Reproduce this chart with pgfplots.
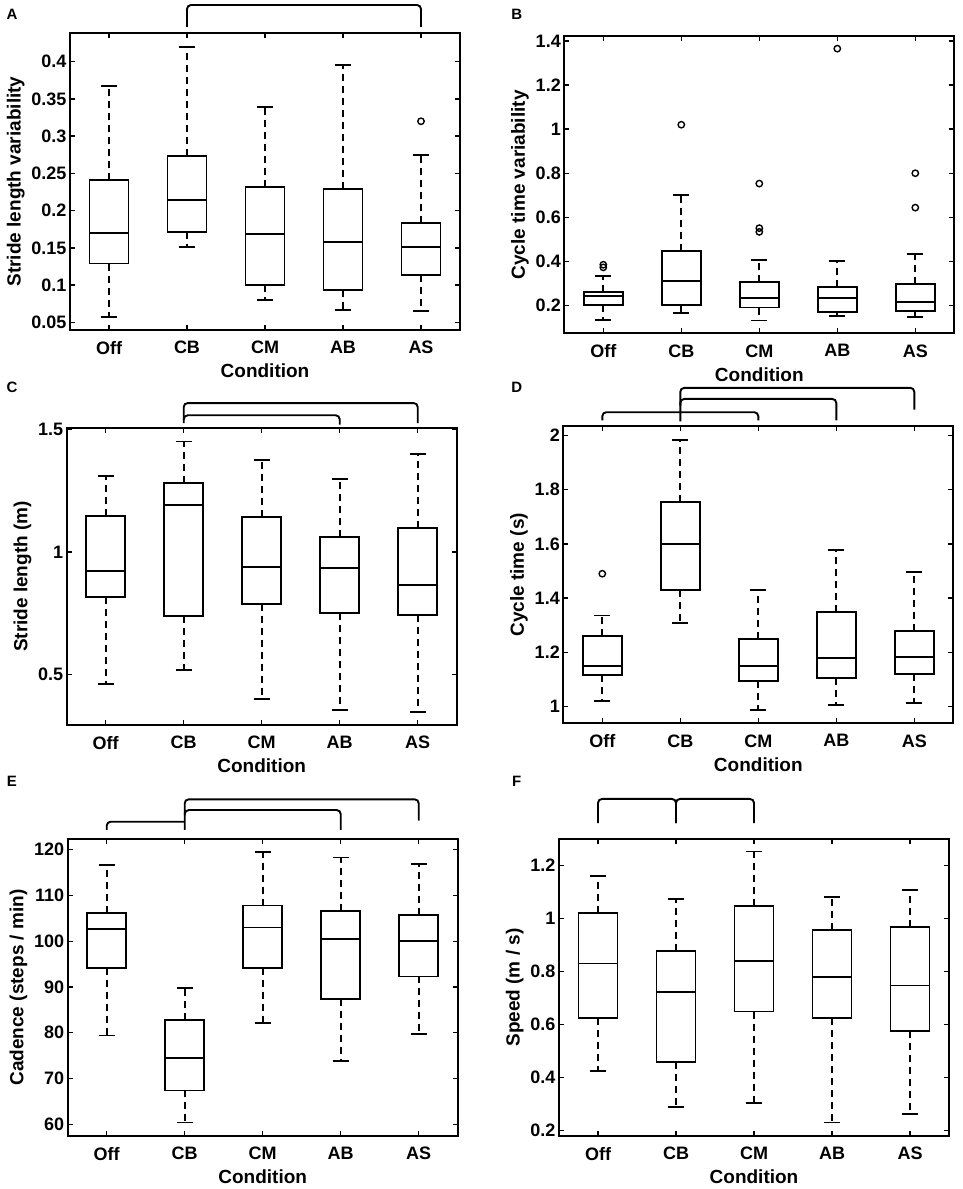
\documentclass[border=0pt]{standalone}
\usepackage{pgfplots}
\pgfplotsset{compat=1.18}
\usepgfplotslibrary{statistics}
\usepackage{fontspec}
\setmainfont{Liberation Sans}
\tikzset{br/.style={black, line width=1.9pt, rounded corners=4pt},
  lab/.style={font=\fontsize{15}{18}\selectfont\bfseries}}
\pgfplotsset{
  /pgfplots/boxplot/draw/lower whisker/.code={%
    \draw[dash pattern=on 7pt off 5pt]
      (boxplot box cs:\pgfplotsboxplotvalue{lower quartile},0.5) --
      (boxplot box cs:\pgfplotsboxplotvalue{lower whisker},0.5);
    \draw[solid]
      (boxplot whisker cs:\pgfplotsboxplotvalue{lower whisker},0) --
      (boxplot whisker cs:\pgfplotsboxplotvalue{lower whisker},1);
  },
  /pgfplots/boxplot/draw/upper whisker/.code={%
    \draw[dash pattern=on 7pt off 5pt]
      (boxplot box cs:\pgfplotsboxplotvalue{upper quartile},0.5) --
      (boxplot box cs:\pgfplotsboxplotvalue{upper whisker},0.5);
    \draw[solid]
      (boxplot whisker cs:\pgfplotsboxplotvalue{upper whisker},0) --
      (boxplot whisker cs:\pgfplotsboxplotvalue{upper whisker},1);
  },
  panel/.style={
    scale only axis, width=390pt, height=297pt,
    anchor=south west,
    xmin=0.5, xmax=5.5,
    xtick={1,2,3,4,5},
    xticklabels={Off,CB,CM,AB,AS},
    xlabel={Condition},
    tick align=inside,
    major tick length=5pt,
    axis line style={line width=1.8pt},
    every tick/.style={line width=1.3pt, black},
    tick label style={font=\fontsize{18}{21}\selectfont\bfseries},
    xticklabel style={inner sep=0pt, anchor=north, yshift=-11pt},
    label style={font=\fontsize{19}{22}\selectfont\bfseries},
    xlabel style={at={(axis description cs:0.5,0)}, anchor=north, inner sep=0pt, yshift=-34pt},
    clip=false,
    boxplot/draw direction=y,
    boxplot/box extend=0.5,
    boxplot/whisker extend=0.21,
  },
  bx/.style={black, line width=1.9pt, solid, mark=o, mark size=3.2pt,
    mark options={solid, line width=1.4pt}},
}
\begin{document}
\begin{tikzpicture}
\useasboundingbox (0pt,0pt) rectangle (962pt,-1189pt);
\node[lab] at (12pt,-14pt) {A};
\node[lab] at (516.7pt,-14pt) {B};
\node[lab] at (12pt,-387pt) {C};
\node[lab] at (516.7pt,-387pt) {D};
\node[lab] at (12pt,-781pt) {E};
\node[lab] at (516.7pt,-781pt) {F};

% ---------------- A
\begin{axis}[panel, at={(70pt,-330pt)},
  ymin=0.0397, ymax=0.4385,
  ytick={0.05,0.1,0.15,0.2,0.25,0.3,0.35,0.4},
  yticklabels={0.05,0.1,0.15,0.2,0.25,0.3,0.35,0.4},
  ylabel={Stride length variability}]
\addplot[bx, boxplot prepared={draw position=1, lower whisker=0.0576, lower quartile=0.129, median=0.170, upper quartile=0.241, upper whisker=0.367}] coordinates {};
\addplot[bx, boxplot prepared={draw position=2, lower whisker=0.151, lower quartile=0.171, median=0.2138, upper quartile=0.273, upper whisker=0.420}] coordinates {};
\addplot[bx, boxplot prepared={draw position=3, lower whisker=0.080, lower quartile=0.100, median=0.169, upper quartile=0.2312, upper whisker=0.3396}] coordinates {};
\addplot[bx, boxplot prepared={draw position=4, lower whisker=0.0665, lower quartile=0.093, median=0.158, upper quartile=0.229, upper whisker=0.395}] coordinates {};
\addplot[bx, boxplot prepared={draw position=5, lower whisker=0.0656, lower quartile=0.113, median=0.151, upper quartile=0.183, upper whisker=0.275}] coordinates {(0,0.320)};
\draw[br] (axis cs:2,0.4466) -- (axis cs:2,0.4761) -- (axis cs:5,0.4761) -- (axis cs:5,0.4466);
\end{axis}

% ---------------- B
\begin{axis}[panel, at={(564.3pt,-333.3pt)},
  ymin=0.074, ymax=1.421,
  ytick={0.2,0.4,0.6,0.8,1,1.2,1.4},
  yticklabels={0.2,0.4,0.6,0.8,1,1.2,1.4},
  ylabel={Cycle time variability}]
\addplot[bx, boxplot prepared={draw position=1, lower whisker=0.135, lower quartile=0.203, median=0.245, upper quartile=0.262, upper whisker=0.335}] coordinates {(0,0.385) (0,0.373)};
\addplot[bx, boxplot prepared={draw position=2, lower whisker=0.165, lower quartile=0.203, median=0.312, upper quartile=0.446, upper whisker=0.700}] coordinates {(0,1.020)};
\addplot[bx, boxplot prepared={draw position=3, lower whisker=0.132, lower quartile=0.191, median=0.236, upper quartile=0.306, upper whisker=0.408}] coordinates {(0,0.753) (0,0.551) (0,0.534)};
\addplot[bx, boxplot prepared={draw position=4, lower whisker=0.153, lower quartile=0.170, median=0.236, upper quartile=0.282, upper whisker=0.402}] coordinates {(0,1.365)};
\addplot[bx, boxplot prepared={draw position=5, lower whisker=0.147, lower quartile=0.177, median=0.214, upper quartile=0.299, upper whisker=0.435}] coordinates {(0,0.800) (0,0.644)};
\end{axis}

% ---------------- C
\begin{axis}[panel, at={(66.7pt,-725pt)},
  ymin=0.293, ymax=1.507,
  ytick={0.5,1,1.5},
  yticklabels={0.5,1,1.5},
  ylabel={Stride length (m)}]
\addplot[bx, boxplot prepared={draw position=1, lower whisker=0.460, lower quartile=0.816, median=0.924, upper quartile=1.149, upper whisker=1.310}] coordinates {};
\addplot[bx, boxplot prepared={draw position=2, lower whisker=0.518, lower quartile=0.739, median=1.194, upper quartile=1.282, upper whisker=1.452}] coordinates {};
\addplot[bx, boxplot prepared={draw position=3, lower whisker=0.398, lower quartile=0.789, median=0.939, upper quartile=1.145, upper whisker=1.378}] coordinates {};
\addplot[bx, boxplot prepared={draw position=4, lower whisker=0.355, lower quartile=0.750, median=0.935, upper quartile=1.060, upper whisker=1.299}] coordinates {};
\addplot[bx, boxplot prepared={draw position=5, lower whisker=0.347, lower quartile=0.741, median=0.864, upper quartile=1.100, upper whisker=1.401}] coordinates {};
\draw[br] (axis cs:2,1.527) -- (axis cs:2,1.609) -- (axis cs:5,1.609) -- (axis cs:5,1.527);
\draw[br] (axis cs:2,1.54) -- (axis cs:2,1.559) -- (axis cs:4,1.559) -- (axis cs:4,1.521);
\end{axis}

% ---------------- D
\begin{axis}[panel, at={(563.3pt,-723.3pt)},
  ymin=0.938, ymax=2.034,
  ytick={1,1.2,1.4,1.6,1.8,2},
  yticklabels={1,1.2,1.4,1.6,1.8,2},
  ylabel={Cycle time (s)}]
\addplot[bx, boxplot prepared={draw position=1, lower whisker=1.021, lower quartile=1.116, median=1.150, upper quartile=1.259, upper whisker=1.336}] coordinates {(0,1.490)};
\addplot[bx, boxplot prepared={draw position=2, lower whisker=1.309, lower quartile=1.430, median=1.601, upper quartile=1.755, upper whisker=1.985}] coordinates {};
\addplot[bx, boxplot prepared={draw position=3, lower whisker=0.988, lower quartile=1.094, median=1.149, upper quartile=1.250, upper whisker=1.430}] coordinates {};
\addplot[bx, boxplot prepared={draw position=4, lower whisker=1.006, lower quartile=1.106, median=1.179, upper quartile=1.350, upper whisker=1.576}] coordinates {};
\addplot[bx, boxplot prepared={draw position=5, lower whisker=1.014, lower quartile=1.119, median=1.182, upper quartile=1.278, upper whisker=1.495}] coordinates {};
\draw[br] (axis cs:2,2.052) -- (axis cs:2,2.176) -- (axis cs:5,2.176) -- (axis cs:5,2.096);
\draw[br] (axis cs:2,2.11) -- (axis cs:2,2.135) -- (axis cs:4,2.135) -- (axis cs:4,2.056);
\draw[br] (axis cs:1,2.056) -- (axis cs:1,2.086) -- (axis cs:3,2.086) -- (axis cs:3,2.056);
\end{axis}

% ---------------- E
\begin{axis}[panel, at={(67.7pt,-1136pt)},
  ymin=57.45, ymax=122.33,
  ytick={60,70,80,90,100,110,120},
  yticklabels={60,70,80,90,100,110,120},
  ylabel={Cadence (steps / min)}]
\addplot[bx, boxplot prepared={draw position=1, lower whisker=79.4, lower quartile=94.15, median=102.7, upper quartile=106.2, upper whisker=116.6}] coordinates {};
\addplot[bx, boxplot prepared={draw position=2, lower whisker=60.4, lower quartile=67.4, median=74.5, upper quartile=82.8, upper whisker=89.7}] coordinates {};
\addplot[bx, boxplot prepared={draw position=3, lower whisker=82.1, lower quartile=94.15, median=103.0, upper quartile=107.8, upper whisker=119.5}] coordinates {};
\addplot[bx, boxplot prepared={draw position=4, lower whisker=73.8, lower quartile=87.45, median=100.4, upper quartile=106.7, upper whisker=118.3}] coordinates {};
\addplot[bx, boxplot prepared={draw position=5, lower whisker=79.7, lower quartile=92.3, median=100.0, upper quartile=105.7, upper whisker=116.8}] coordinates {};
\draw[br] (axis cs:2,124.3) -- (axis cs:2,131.0) -- (axis cs:5,131.0) -- (axis cs:5,126.33);
\draw[br] (axis cs:2,127.5) -- (axis cs:2,128.66) -- (axis cs:4,128.66) -- (axis cs:4,124.3);
\draw[br] (axis cs:1,124.3) -- (axis cs:1,126.11) -- (axis cs:2,126.11);
\end{axis}

% ---------------- F
\begin{axis}[panel, at={(559pt,-1136pt)},
  ymin=0.180, ymax=1.299,
  ytick={0.2,0.4,0.6,0.8,1,1.2},
  yticklabels={0.2,0.4,0.6,0.8,1,1.2},
  ylabel={Speed (m / s)}]
\addplot[bx, boxplot prepared={draw position=1, lower whisker=0.424, lower quartile=0.625, median=0.830, upper quartile=1.021, upper whisker=1.158}] coordinates {};
\addplot[bx, boxplot prepared={draw position=2, lower whisker=0.289, lower quartile=0.458, median=0.723, upper quartile=0.877, upper whisker=1.074}] coordinates {};
\addplot[bx, boxplot prepared={draw position=3, lower whisker=0.304, lower quartile=0.649, median=0.840, upper quartile=1.048, upper whisker=1.252}] coordinates {};
\addplot[bx, boxplot prepared={draw position=4, lower whisker=0.231, lower quartile=0.623, median=0.779, upper quartile=0.957, upper whisker=1.082}] coordinates {};
\addplot[bx, boxplot prepared={draw position=5, lower whisker=0.262, lower quartile=0.575, median=0.747, upper quartile=0.969, upper whisker=1.107}] coordinates {};
\draw[br] (axis cs:1,1.359) -- (axis cs:1,1.450) -- (axis cs:2,1.450) -- (axis cs:2,1.359);
\draw[br] (axis cs:2,1.359) -- (axis cs:2,1.450) -- (axis cs:3,1.450) -- (axis cs:3,1.359);
\end{axis}
\end{tikzpicture}
\end{document}
